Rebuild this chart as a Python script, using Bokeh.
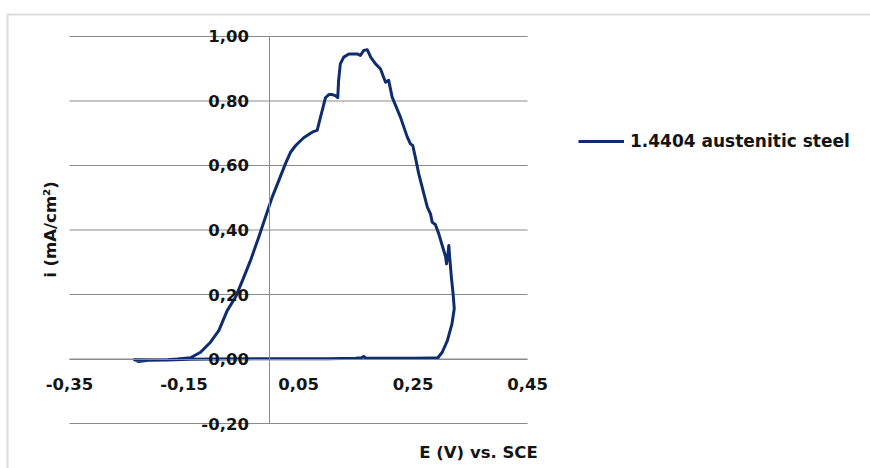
from bokeh.plotting import figure
from bokeh.models import (Range1d, LinearAxis, FixedTicker, Label, Legend,
                          LegendItem, BoxAnnotation)
from bokeh.embed import file_html
from bokeh.resources import INLINE

# ---------------- data ----------------
series_name = "1.4404 austenitic steel"

E_V = [-0.238, -0.229, -0.212, -0.180, -0.140, -0.100, 0.000, 0.100, 0.150, 0.160,
       0.164, 0.168, 0.250, 0.286, 0.293, 0.301, 0.310, 0.318, 0.322, 0.320,
       0.317, 0.314, 0.3125, 0.311, 0.3085, 0.307, 0.301, 0.295, 0.289, 0.2835,
       0.2805, 0.275, 0.269, 0.260, 0.254, 0.2495, 0.2455, 0.240, 0.228, 0.2135,
       0.2075, 0.202, 0.193, 0.1845, 0.176, 0.170, 0.164, 0.158, 0.1525, 0.138,
       0.129, 0.123, 0.120, 0.1185, 0.115, 0.109, 0.103, 0.097, 0.0825, 0.077,
       0.071, 0.059, 0.045, 0.036, 0.027, 0.0155, 0.004, -0.0077, -0.0194, -0.034,
       -0.048, -0.060, -0.0746, -0.0893, -0.1038, -0.1212, -0.1387, -0.162, -0.179, -0.208,
       -0.238]
i_mA = [-0.002, -0.008, -0.004, -0.003, -0.001, 0.000, 0.001, 0.001, 0.002, 0.004,
        0.008, 0.002, 0.002, 0.003, 0.003, 0.021, 0.057, 0.109, 0.156, 0.202,
        0.254, 0.316, 0.352, 0.326, 0.295, 0.316, 0.352, 0.388, 0.417, 0.424,
        0.450, 0.471, 0.512, 0.574, 0.626, 0.662, 0.667, 0.688, 0.750, 0.812,
        0.864, 0.858, 0.900, 0.915, 0.936, 0.959, 0.957, 0.941, 0.946, 0.946,
        0.936, 0.915, 0.864, 0.810, 0.816, 0.820, 0.820, 0.810, 0.709, 0.706,
        0.700, 0.686, 0.662, 0.641, 0.605, 0.553, 0.502, 0.440, 0.378, 0.305,
        0.243, 0.192, 0.150, 0.088, 0.052, 0.021, 0.004, 0.000, -0.002, -0.003,
        -0.002]

x_ticks = [-0.35, -0.15, 0.05, 0.25, 0.45]
x_tick_labels = ["-0,35", "-0,15", "0,05", "0,25", "0,45"]
y_ticks = [-0.20, 0.00, 0.20, 0.40, 0.60, 0.80, 1.00]
y_tick_labels = ["-0,20", "0,00", "0,20", "0,40", "0,60", "0,80", "1,00"]
x_title = "E (V) vs. SCE"
y_title = "i (mA/cm\u00b2)"

# ---------------- styling ----------------
FONT = "DejaVu Sans"
FS = "16.5px"
LINE_COLOR = "#0f2d6e"
GRID_COLOR = "#8a8a8a"
TEXT_COLOR = "#141414"

p = figure(width=870, height=468,
           x_range=Range1d(-0.4706, 1.0491), y_range=Range1d(-0.3395, 1.1116),
           x_axis_location=None, y_axis_location=None,
           min_border=0, min_border_left=0, min_border_right=0,
           min_border_top=0, min_border_bottom=0,
           toolbar_location=None, output_backend="svg",
           outline_line_color=None, background_fill_color="white",
           border_fill_color="white")

for g in p.xgrid + p.ygrid:
    g.visible = False

# outer chart-area border (left and top edges visible)
p.add_layout(BoxAnnotation(left=-0.4583, top=1.0682, right=1.3, bottom=-0.6,
                           fill_color=None, line_color=GRID_COLOR, line_width=2))

# horizontal gridlines across the plot area only
p.segment(x0=[x_ticks[0]] * len(y_ticks), x1=[x_ticks[-1]] * len(y_ticks),
          y0=y_ticks, y1=y_ticks, line_color=GRID_COLOR, line_width=1)

r = p.line(E_V, i_mA, line_color=LINE_COLOR, line_width=3, line_join="round")

# axes crossing at origin
common = dict(axis_line_color=GRID_COLOR, axis_line_width=1,
              major_tick_in=0, major_tick_out=0, minor_tick_in=0, minor_tick_out=0,
              major_label_text_font=FONT, major_label_text_font_style="bold",
              major_label_text_font_size=FS, major_label_text_color=TEXT_COLOR)
xaxis = LinearAxis(fixed_location=0, ticker=FixedTicker(ticks=x_ticks),
                   bounds=(x_ticks[0], x_ticks[-1]),
                   major_label_overrides=dict(zip(x_ticks, x_tick_labels)),
                   major_label_standoff=19, **common)
yaxis = LinearAxis(fixed_location=0, ticker=FixedTicker(ticks=y_ticks),
                   bounds=(y_ticks[0], y_ticks[-1]),
                   major_label_overrides=dict(zip(y_ticks, y_tick_labels)),
                   major_label_standoff=21, **common)
p.add_layout(xaxis, "below")
p.add_layout(yaxis, "left")

# axis titles
p.add_layout(Label(x=0.3644, y=-0.2899, text=x_title, text_align="center",
                   text_baseline="middle", text_font=FONT, text_font_style="bold",
                   text_font_size=FS, text_color=TEXT_COLOR))
p.add_layout(Label(x=-0.3832, y=0.4016, text=y_title, angle=1.5707963,
                   text_align="center", text_baseline="middle", text_font=FONT,
                   text_font_style="bold", text_font_size=FS, text_color=TEXT_COLOR))

legend = Legend(items=[LegendItem(label=series_name, renderers=[r])],
                location=(578, 317), padding=0, margin=0, spacing=0,
                glyph_width=46, glyph_height=18, label_standoff=6,
                border_line_color=None, background_fill_alpha=0,
                label_text_font=FONT, label_text_font_style="bold",
                label_text_font_size="17px", label_text_color=TEXT_COLOR)
p.add_layout(legend)

open("out.html", "w").write(file_html(p, INLINE))
